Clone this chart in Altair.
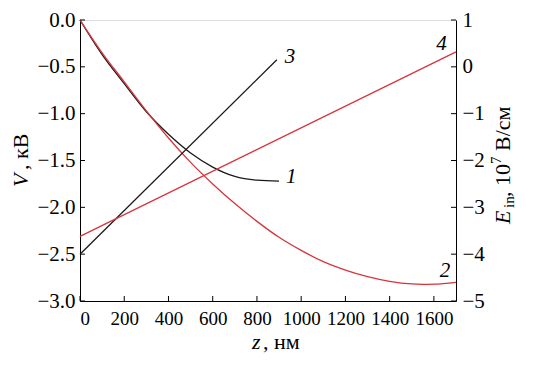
import altair as alt
import pandas as pd

# Curve 1 (V, kV) and curve 2 (V, kV) vs z (nm)
z1 = [0, 100, 200, 300, 400, 500, 600, 700, 800, 900]
v1 = [0.0, -0.37, -0.68, -0.98, -1.22, -1.42, -1.57, -1.67, -1.71, -1.72]
z2 = [0, 100, 200, 300, 400, 500, 600, 700, 800, 900, 1000, 1100, 1200,
      1300, 1400, 1500, 1550, 1600, 1700]
v2 = [0.0, -0.35, -0.66, -0.97, -1.26, -1.52, -1.75, -1.96, -2.15, -2.32,
      -2.46, -2.58, -2.67, -2.74, -2.79, -2.818, -2.822, -2.82, -2.80]
# Field lines (E_in, 10^7 V/cm)
z3 = [0, 890]
e3 = [-4.0, 0.15]
z4 = [0, 1700]
e4 = [-3.62, 0.32]

# curve labels (placed in V coordinates)
lab_text = ["1", "2", "3", "4"]
lab_z = [955, 1650, 950, 1635]
lab_v = [-1.68, -2.68, -0.40, -0.26]

v_ticks = [0.0, -0.5, -1.0, -1.5, -2.0, -2.5, -3.0]
z_ticks = [0, 200, 400, 600, 800, 1000, 1200, 1400, 1600]
e_ticks = [1, 0, -1, -2, -3, -4, -5]

W, H = 376, 281
BLACK = "#1a1a1a"
RED = "#d8343c"
FONT = "Liberation Serif"

xs = alt.Scale(domain=[0, 1700], nice=False, zero=False)
vs = alt.Scale(domain=[-3, 0], nice=False, zero=False)
es = alt.Scale(domain=[-5, 1], nice=False, zero=False)

df1 = pd.DataFrame({"z": z1, "v": v1})
df2 = pd.DataFrame({"z": z2, "v": v2})
df3 = pd.DataFrame({"z": z3, "e": e3})
df4 = pd.DataFrame({"z": z4, "e": e4})
dfl = pd.DataFrame({"t": lab_text, "z": lab_z, "v": lab_v})
dfvt = pd.DataFrame({"v": v_ticks})
dfzt = pd.DataFrame({"z": z_ticks})

x_axis = alt.Axis(values=z_ticks, format="d", title="", grid=False,
                  ticks=False, labelFont=FONT, labelFontSize=19,
                  labelPadding=8, labelColor="black", domainColor="black")
v_axis = alt.Axis(values=v_ticks, format=".1f", title="", grid=False,
                  ticks=False, labelFont=FONT, labelFontSize=21,
                  labelPadding=5, labelColor="black", domainColor="black")
e_axis = alt.Axis(values=e_ticks, format="d", title="", orient="right",
                  grid=False, ticks=False, labelFont=FONT, labelFontSize=21,
                  labelPadding=6, labelColor="black", domainColor="black")

c1 = alt.Chart(df1).mark_line(color=BLACK, strokeWidth=1.3,
                              interpolate="monotone").encode(
    x=alt.X("z:Q", scale=xs, axis=x_axis),
    y=alt.Y("v:Q", scale=vs, axis=v_axis))
c2 = alt.Chart(df2).mark_line(color=RED, strokeWidth=1.3,
                              interpolate="monotone").encode(
    x=alt.X("z:Q", scale=xs, axis=x_axis),
    y=alt.Y("v:Q", scale=vs, axis=v_axis))
labels = alt.Chart(dfl).mark_text(font=FONT, fontSize=21, fontStyle="italic",
                                  color="black").encode(
    x=alt.X("z:Q", scale=xs, axis=x_axis),
    y=alt.Y("v:Q", scale=vs, axis=v_axis),
    text="t:N")
# inward ticks: left and right (same pixel positions), bottom
lt = alt.Chart(dfvt).mark_rule(color="black", strokeWidth=1).encode(
    y=alt.Y("v:Q", scale=vs, axis=v_axis), x=alt.value(0), x2=alt.value(5))
rt = alt.Chart(dfvt).mark_rule(color="black", strokeWidth=1).encode(
    y=alt.Y("v:Q", scale=vs, axis=v_axis), x=alt.value(W), x2=alt.value(W - 5))
bt = alt.Chart(dfzt).mark_rule(color="black", strokeWidth=1).encode(
    x=alt.X("z:Q", scale=xs, axis=x_axis), y=alt.value(H), y2=alt.value(H - 5))


def piece(text, px, py, size, italic=False, angle=0):
    kw = dict(font=FONT, fontSize=size, align="left", baseline="alphabetic",
              color="black", angle=angle)
    if italic:
        kw["fontStyle"] = "italic"
    return alt.Chart(pd.DataFrame({"t": [text]})).mark_text(**kw).encode(
        x=alt.value(px), y=alt.value(py), text="t:N")


# axis titles built from pieces (italic symbols, sub/superscripts)
titles = [
    # left: "V, кВ"
    piece("V", -52, 167, 22, italic=True, angle=270),
    piece(", кВ", -52, 150, 22, angle=270),
    # bottom: "z, нм"
    piece("z", 172, 329, 22, italic=True),
    piece(", нм", 183, 329, 22),
    # right: "E_in, 10^7 В/см"
    piece("E", 430, 204, 22, italic=True, angle=270),
    piece("in", 434, 188, 15, angle=270),
    piece(", 10", 430, 177, 22, angle=270),
    piece("7", 421, 144, 15, angle=270),
    piece("В/см", 430, 131, 22, angle=270),
]

left = alt.layer(c1, c2, labels, lt, rt, bt, *titles)

c3 = alt.Chart(df3).mark_line(color=BLACK, strokeWidth=1.3).encode(
    x=alt.X("z:Q", scale=xs, axis=x_axis),
    y=alt.Y("e:Q", scale=es, axis=e_axis))
c4 = alt.Chart(df4).mark_line(color=RED, strokeWidth=1.3).encode(
    x=alt.X("z:Q", scale=xs, axis=x_axis),
    y=alt.Y("e:Q", scale=es, axis=e_axis))
right = alt.layer(c3, c4)

chart = alt.layer(left, right).resolve_scale(y="independent").properties(
    width=W, height=H,
    autosize=alt.AutoSizeParams(type="none"),
    padding={"left": 72, "top": 12, "right": 74, "bottom": 58},
).configure_view(stroke=None).configure(background="white")

chart.save("out.html", embed_options={"renderer": "svg", "actions": False})
